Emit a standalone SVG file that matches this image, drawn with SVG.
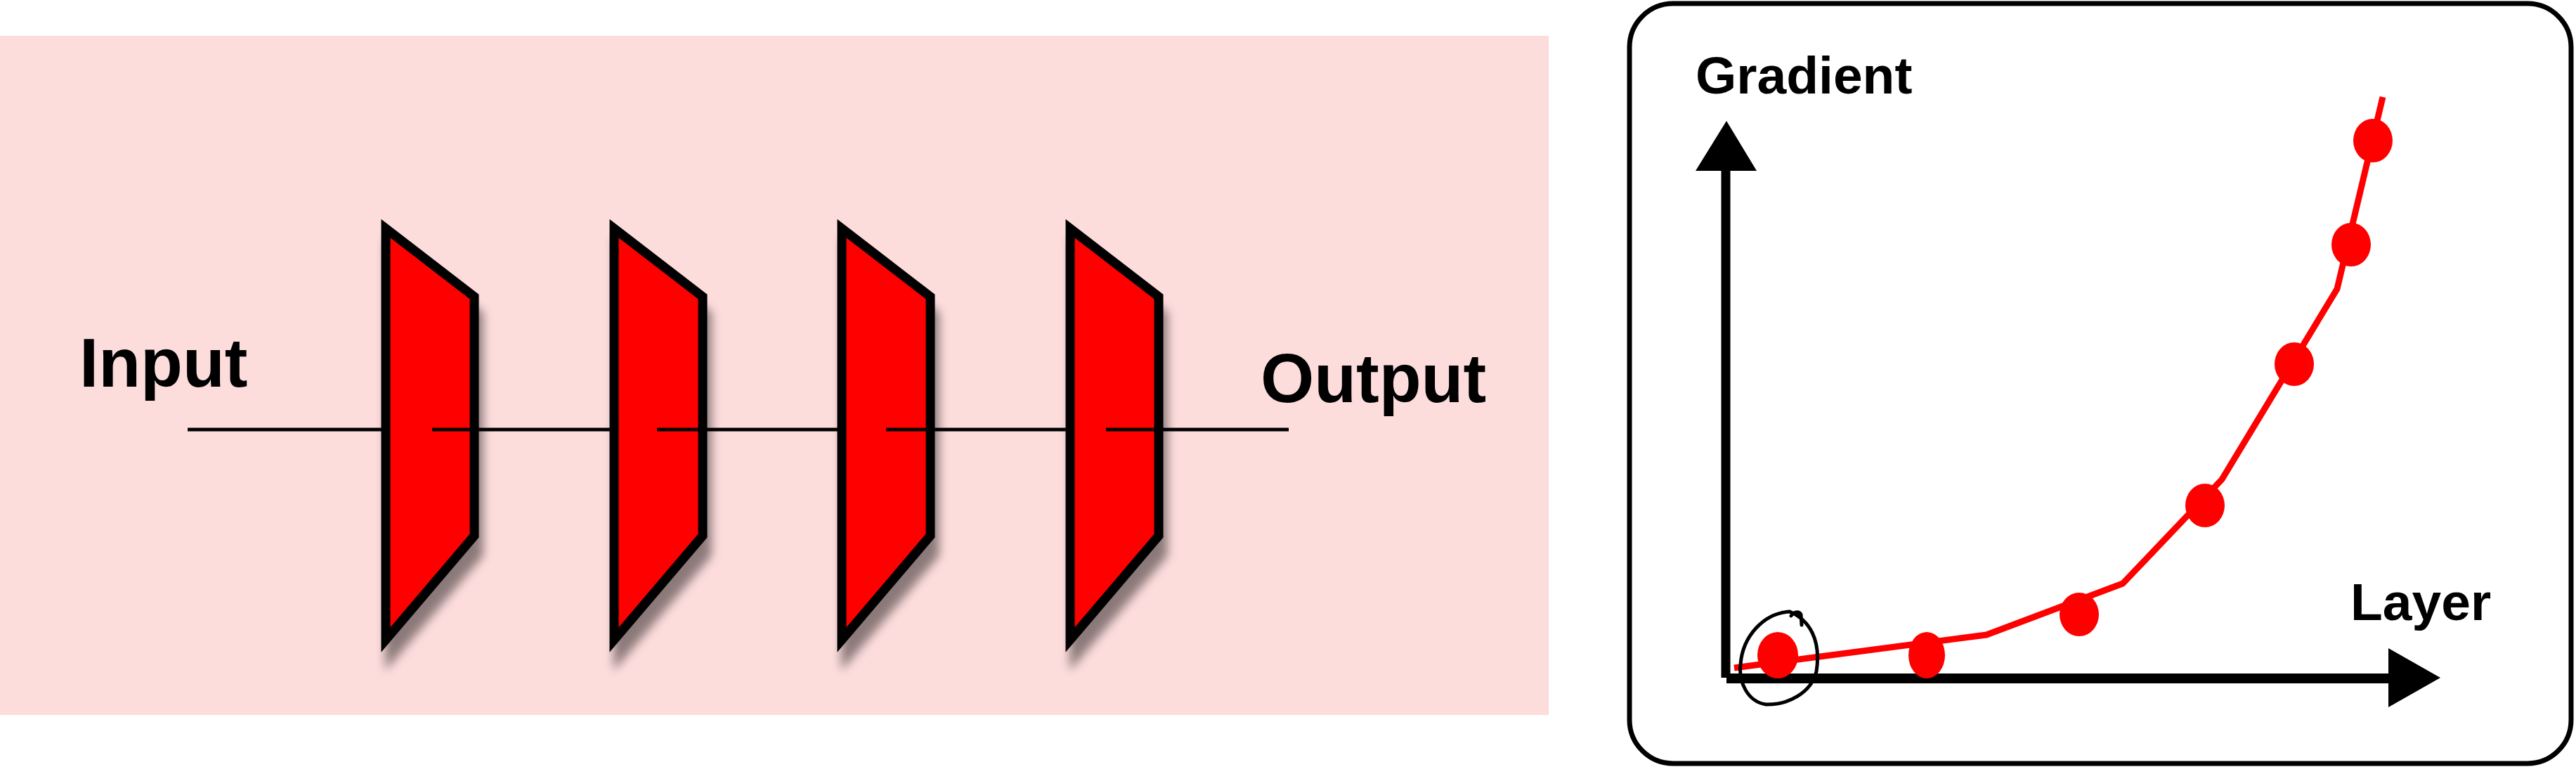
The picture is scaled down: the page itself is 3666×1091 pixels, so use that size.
<svg xmlns="http://www.w3.org/2000/svg" width="3666" height="1091" viewBox="0 0 3666 1091">
<style>
.lbl{font-family:"Liberation Sans",Arial,sans-serif;font-weight:bold;fill:#000}
.layer{fill:#ff0000;stroke:#000;stroke-width:13;stroke-linejoin:miter;filter:url(#sh)}
.wire{stroke:#000;stroke-width:5;fill:none}
.dot{fill:#ff0000}
</style>
<defs>
<filter id="sh" x="-30%" y="-20%" width="160%" height="150%">
<feGaussianBlur in="SourceAlpha" stdDeviation="7"/>
<feOffset dx="6" dy="26" result="b"/>
<feFlood flood-color="#000" flood-opacity="0.45"/>
<feComposite in2="b" operator="in"/>
<feMerge><feMergeNode/><feMergeNode in="SourceGraphic"/></feMerge>
</filter>
</defs>
<rect x="0" y="0" width="3666" height="1091" fill="#fff"/>
<g id="left-panel">
<rect x="0" y="51" width="2204" height="966" fill="#fddcdc"/>
</g>
<g id="layer1"><polygon class="layer" points="549,325 675,422 675,762 549,910"/></g>
<g id="layer2"><polygon class="layer" points="874,325 1000,422 1000,762 874,910"/></g>
<g id="layer3"><polygon class="layer" points="1198,325 1324,422 1324,762 1198,910"/></g>
<g id="layer4"><polygon class="layer" points="1523,325 1649,422 1649,762 1523,910"/></g>
<g id="connectors">
<line class="wire" x1="267" y1="611" x2="545" y2="611"/>
<line class="wire" x1="615" y1="611" x2="870" y2="611"/>
<line class="wire" x1="935" y1="611" x2="1194" y2="611"/>
<line class="wire" x1="1261" y1="611" x2="1519" y2="611"/>
<line class="wire" x1="1574" y1="611" x2="1834" y2="611"/>
</g>
<g id="input-label"><text class="lbl" x="113" y="550" font-size="98">Input</text></g>
<g id="output-label"><text class="lbl" x="1794" y="572" font-size="98">Output</text></g>
<g id="chart">
<rect x="2319" y="5" width="1340" height="1081" rx="62" ry="62" fill="#fff" stroke="#000" stroke-width="7"/>
<line x1="2456" y1="240" x2="2456" y2="964" stroke="#000" stroke-width="13"/>
<polygon points="2457,172 2413,243 2500,243" fill="#000"/>
<line x1="2457" y1="965" x2="3402" y2="965" stroke="#000" stroke-width="14"/>
<polygon points="3399,922 3473,964 3399,1006" fill="#000"/>
<text class="lbl" x="2413" y="133" font-size="75">Gradient</text>
<text class="lbl" x="3345" y="882" font-size="75">Layer</text>
<polyline points="2468,950 2827,903 3021,830 3162,682 3326,411 3391,138" fill="none" stroke="#ff0000" stroke-width="9" stroke-linejoin="round"/>
<ellipse class="dot" cx="2530" cy="932" rx="29" ry="33"/>
<ellipse class="dot" cx="2742" cy="932" rx="26" ry="33"/>
<ellipse class="dot" cx="2959" cy="874" rx="28" ry="31"/>
<ellipse class="dot" cx="3138" cy="719" rx="28" ry="31"/>
<ellipse class="dot" cx="3265" cy="518" rx="28" ry="31"/>
<ellipse class="dot" cx="3346" cy="348" rx="28" ry="31"/>
<ellipse class="dot" cx="3377" cy="200" rx="28" ry="31"/>
<path d="M2547,870 C2575,882 2592,910 2585,955 C2578,985 2545,1003 2513,1002 C2487,998 2474,970 2477,945 C2480,905 2510,872 2547,870 M2549,876 C2552,870 2560,869 2563,874 L2564,889" fill="none" stroke="#000" stroke-width="5" stroke-linecap="round"/>
</g>
</svg>
